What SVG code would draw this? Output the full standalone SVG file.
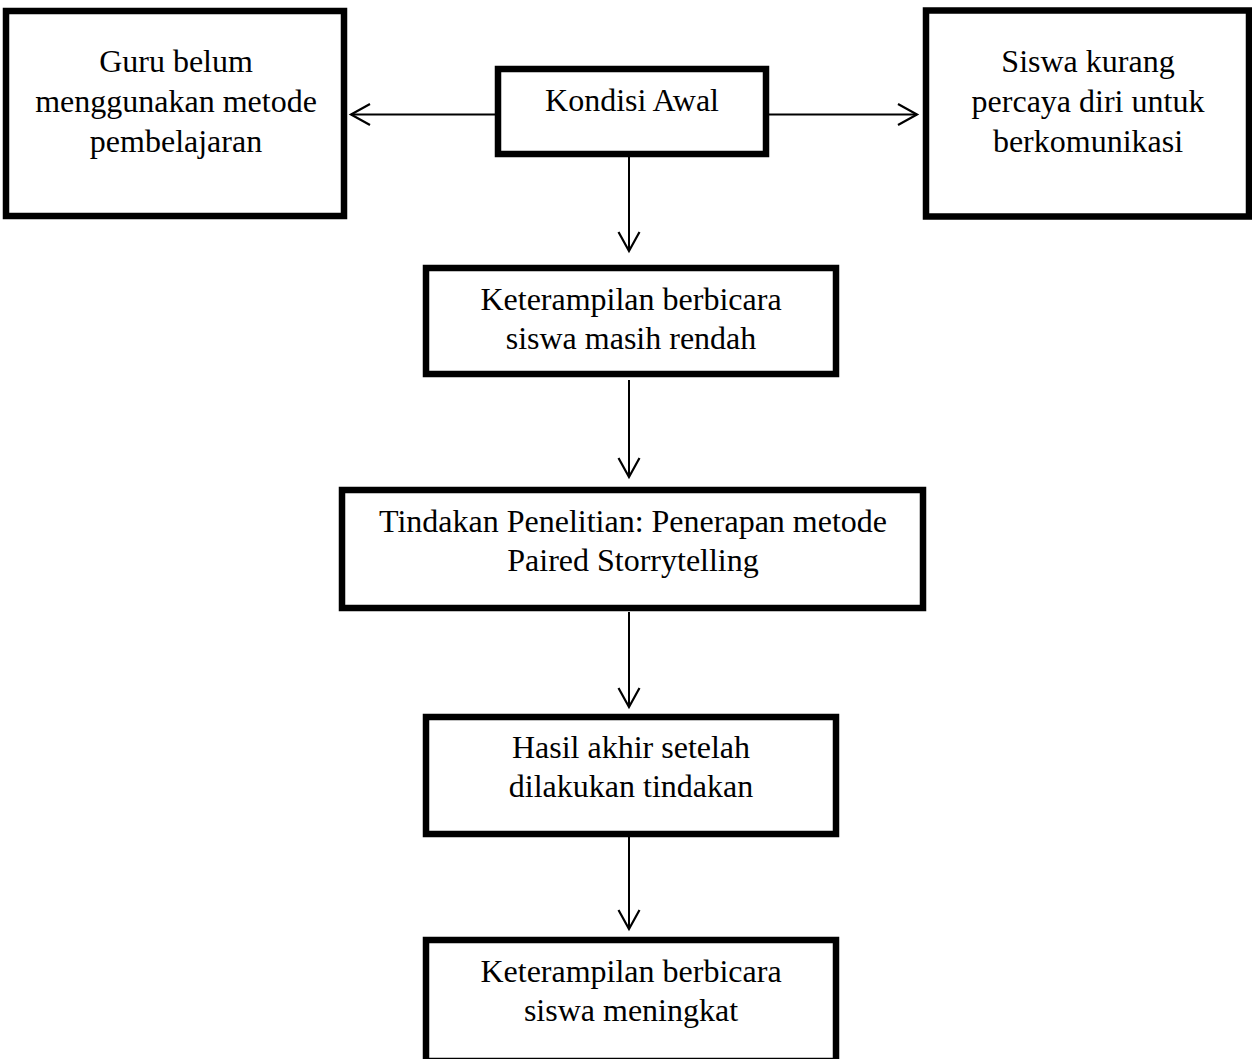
<svg xmlns="http://www.w3.org/2000/svg" width="1252" height="1059" viewBox="0 0 1252 1059">
<style>
.box{fill:#fff;stroke:#000;stroke-width:6.5}
.t{font-family:"Liberation Serif","Times New Roman",serif;font-size:32px;fill:#000;text-anchor:middle}
.c{stroke:#000;stroke-width:2;fill:none}
</style>
<defs>
<marker id="ah" markerUnits="userSpaceOnUse" markerWidth="24" markerHeight="26" refX="20" refY="12" orient="auto">
<path d="M1,1.5 L20,12 L1,22.5" fill="none" stroke="#000" stroke-width="2.2"/>
</marker>
</defs>
<rect width="1252" height="1059" fill="#fff"/>
<g id="connectors">
<line class="c" x1="495" y1="114.5" x2="351" y2="114.5" marker-end="url(#ah)"/>
<line class="c" x1="769" y1="114.5" x2="917" y2="114.5" marker-end="url(#ah)"/>
<line class="c" x1="629" y1="157" x2="629" y2="251" marker-end="url(#ah)"/>
<line class="c" x1="629" y1="380" x2="629" y2="477" marker-end="url(#ah)"/>
<line class="c" x1="629" y1="612" x2="629" y2="707" marker-end="url(#ah)"/>
<line class="c" x1="629" y1="837" x2="629" y2="929" marker-end="url(#ah)"/>
</g>
<g id="guru">
<rect class="box" x="6" y="11" width="338" height="205"/>
<text class="t" x="176" y="72">Guru belum</text>
<text class="t" x="176" y="112">menggunakan metode</text>
<text class="t" x="176" y="152">pembelajaran</text>
</g>
<g id="kondisi">
<rect class="box" x="498" y="69" width="268" height="85"/>
<text class="t" x="632" y="111">Kondisi Awal</text>
</g>
<g id="siswa">
<rect class="box" x="926" y="10.5" width="323" height="206"/>
<text class="t" x="1088" y="72">Siswa kurang</text>
<text class="t" x="1088" y="112">percaya diri untuk</text>
<text class="t" x="1088" y="152">berkomunikasi</text>
</g>
<g id="rendah">
<rect class="box" x="426" y="268" width="410" height="106"/>
<text class="t" x="631" y="310">Keterampilan berbicara</text>
<text class="t" x="631" y="349">siswa masih rendah</text>
</g>
<g id="tindakan">
<rect class="box" x="342" y="490" width="581" height="118"/>
<text class="t" x="633" y="532">Tindakan Penelitian: Penerapan metode</text>
<text class="t" x="633" y="571">Paired Storrytelling</text>
</g>
<g id="hasil">
<rect class="box" x="426" y="717" width="410" height="117"/>
<text class="t" x="631" y="758">Hasil akhir setelah</text>
<text class="t" x="631" y="797">dilakukan tindakan</text>
</g>
<g id="meningkat">
<rect class="box" x="426" y="940" width="410" height="121"/>
<text class="t" x="631" y="982">Keterampilan berbicara</text>
<text class="t" x="631" y="1021">siswa meningkat</text>
</g>
</svg>
